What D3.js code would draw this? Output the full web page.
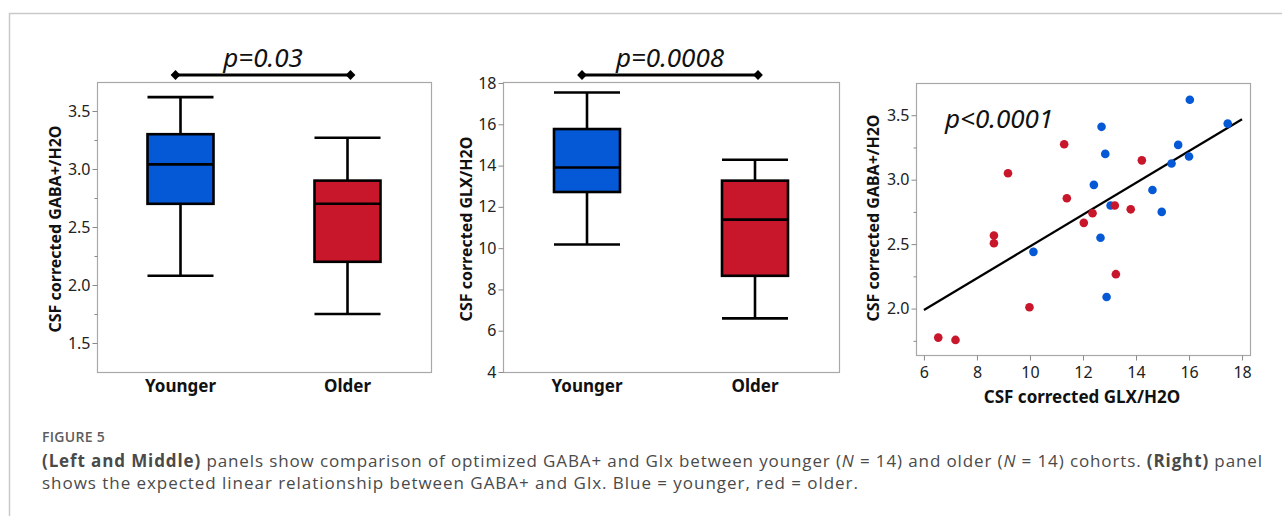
<!DOCTYPE html>
<html>
<head>
<meta charset="utf-8">
<script src="https://cdn.jsdelivr.net/npm/d3@7"></script>
<style>
  body { margin: 0; background: #fff; }
  svg { display: block; }
  .tick text { font-family: "Noto Sans", sans-serif; font-size: 16px; fill: #222; }
  .tick line { stroke: #8a8a8a; }
</style>
</head>
<body>
<div id="chart"></div>
<script>
// groups and box statistics
var groups = ["Younger", "Older"];
var gabaMin = [2.08, 1.75], gabaQ1 = [2.70, 2.20], gabaMed = [3.04, 2.70], gabaQ3 = [3.30, 2.90], gabaMax = [3.62, 3.27];
var glxMin = [10.18, 6.60], glxQ1 = [12.72, 8.66], glxMed = [13.91, 11.38], glxQ3 = [15.77, 13.27], glxMax = [17.54, 14.28];

// scatter: individual subjects
var youngGlx = [16.03, 17.46, 12.70, 15.59, 12.84, 16.00, 15.34, 12.41, 14.62, 13.04, 14.97, 12.66, 10.13, 12.89];
var youngGaba = [3.62, 3.435, 3.41, 3.27, 3.20, 3.18, 3.125, 2.96, 2.92, 2.80, 2.75, 2.55, 2.44, 2.09];
var olderGlx = [11.29, 9.17, 14.22, 11.39, 13.20, 13.80, 12.36, 12.03, 8.64, 8.64, 13.24, 9.98, 6.54, 7.19];
var olderGaba = [3.275, 3.05, 3.15, 2.856, 2.80, 2.77, 2.74, 2.665, 2.567, 2.507, 2.267, 2.01, 1.775, 1.757];

var gabaTicks = [1.5, 2.0, 2.5, 3.0, 3.5];
var gabaMinor = [1.75, 2.25, 2.75, 3.25];
var glxTicks = [4, 6, 8, 10, 12, 14, 16, 18];
var glxXTicks = [6, 8, 10, 12, 14, 16, 18];
var pLabels = ["p=0.03", "p=0.0008", "p<0.0001"];

var BLUE = "#0558d6", RED = "#c8162b";
var colors = [BLUE, RED];

var svg = d3.select("#chart").append("svg").attr("width", 1282).attr("height", 516);

// outer figure frame
svg.append("path").attr("d", "M9.5,516V13.5H1282").attr("fill", "none")
	.attr("stroke", "#c9c9c9").attr("stroke-width", 1.5);

function frame(p) {
	svg.append("rect").attr("x", p.x0 + 0.5).attr("y", p.y0 + 0.5)
		.attr("width", p.x1 - p.x0).attr("height", p.y1 - p.y0)
		.attr("fill", "none").attr("stroke", "#a8a8a8").attr("stroke-width", 1.2);
}

function yAxis(p, y, ticks, minor, fmt) {
	var g = svg.append("g").attr("transform", "translate(" + (p.x0 + 0.5) + ",0)");
	g.call(d3.axisLeft(y).tickValues(ticks).tickSize(5).tickPadding(2).tickFormat(fmt));
	g.select(".domain").remove();
	if (minor) {
		var m = svg.append("g").attr("transform", "translate(" + (p.x0 + 0.5) + ",0)");
		m.call(d3.axisLeft(y).tickValues(minor).tickSize(3).tickFormat(""));
		m.select(".domain").remove();
	}
}

function yTitle(x, yc, label) {
	svg.append("text").attr("transform", "translate(" + x + "," + yc + ") rotate(-90)")
		.attr("text-anchor", "middle").attr("dy", "0.35em")
		.style("font-family", "'Noto Sans', sans-serif").style("font-weight", "bold")
		.style("font-size", "16px").style("fill", "#111").text(label);
}

function boxPanel(p, y, mins, q1, med, q3, maxs, ticks, minor, fmt, title, titleX, pLabel) {
	var x = d3.scaleBand().domain(groups).range([p.x0, p.x1]);
	var bw = 66;
	frame(p);
	yAxis(p, y, ticks, minor, fmt);
	yTitle(titleX, (p.y0 + p.y1) / 2 + 2, title);

	var g = svg.append("g");
	groups.forEach(function(d, i) {
		var cx = x(d) + x.bandwidth() / 2;
		g.append("line").attr("x1", cx).attr("x2", cx).attr("y1", y(maxs[i])).attr("y2", y(q3[i])).attr("stroke", "#000").attr("stroke-width", 2.6);
		g.append("line").attr("x1", cx).attr("x2", cx).attr("y1", y(q1[i])).attr("y2", y(mins[i])).attr("stroke", "#000").attr("stroke-width", 2.6);
		[maxs[i], mins[i]].forEach(function(v) {
			g.append("line").attr("x1", cx - bw / 2).attr("x2", cx + bw / 2)
				.attr("y1", y(v)).attr("y2", y(v)).attr("stroke", "#000").attr("stroke-width", 2.6);
		});
		g.append("rect").attr("x", cx - bw / 2).attr("y", y(q3[i]))
			.attr("width", bw).attr("height", y(q1[i]) - y(q3[i]))
			.attr("fill", colors[i]).attr("stroke", "#000").attr("stroke-width", 2.6);
		g.append("line").attr("x1", cx - bw / 2).attr("x2", cx + bw / 2)
			.attr("y1", y(med[i])).attr("y2", y(med[i])).attr("stroke", "#000").attr("stroke-width", 2.6);

		svg.append("text").attr("x", cx).attr("y", p.y1 + 20).attr("text-anchor", "middle")
			.style("font-family", "'Noto Sans', sans-serif").style("font-weight", "bold")
			.style("font-size", "17px").style("fill", "#111").text(d);
	});

	// significance bracket
	var c0 = x(groups[0]) + x.bandwidth() / 2 - 5, c1 = x(groups[1]) + x.bandwidth() / 2 + 3;
	var by = p.y0 - 7;
	svg.append("line").attr("x1", c0).attr("x2", c1).attr("y1", by).attr("y2", by)
		.attr("stroke", "#000").attr("stroke-width", 3);
	[c0, c1].forEach(function(cx) {
		svg.append("path").attr("d", d3.symbol(d3.symbolSquare, 48)())
			.attr("transform", "translate(" + cx + "," + by + ") rotate(45)").attr("fill", "#000");
	});
	svg.append("text").attr("x", (c0 + c1) / 2).attr("y", by - 8).attr("text-anchor", "middle")
		.style("font-family", "'Noto Sans', sans-serif").style("font-style", "italic")
		.style("font-size", "26px").style("fill", "#111").text(pLabel);
}

var pLeft = { x0: 97, x1: 431, y0: 82, y1: 372 };
var pMid = { x0: 503, x1: 839, y0: 82, y1: 372 };
var pRight = { x0: 916, x1: 1250, y0: 83, y1: 355 };

var yGabaBox = d3.scaleLinear().domain([1.25, 3.75]).range([pLeft.y1, pLeft.y0]);
var yGlxBox = d3.scaleLinear().domain([4, 18]).range([pMid.y1, pMid.y0 + 1]);

boxPanel(pLeft, yGabaBox, gabaMin, gabaQ1, gabaMed, gabaQ3, gabaMax, gabaTicks, gabaMinor,
	d3.format(".1f"), "CSF corrected GABA+/H2O", 55, pLabels[0]);
boxPanel(pMid, yGlxBox, glxMin, glxQ1, glxMed, glxQ3, glxMax, glxTicks, null,
	d3.format("d"), "CSF corrected GLX/H2O", 466, pLabels[1]);

// scatter panel
var xs = d3.scaleLinear().domain([5.7, 18.3]).range([pRight.x0, pRight.x1]);
var ys = d3.scaleLinear().domain([1.64, 3.75]).range([pRight.y1, pRight.y0]);
frame(pRight);
yAxis(pRight, ys, [2.0, 2.5, 3.0, 3.5], gabaMinor, d3.format(".1f"));
var xg = svg.append("g").attr("transform", "translate(0," + (pRight.y1 + 0.5) + ")");
xg.call(d3.axisBottom(xs).tickValues(glxXTicks).tickSize(5).tickPadding(6).tickFormat(d3.format("d")));
xg.select(".domain").remove();
yTitle(873, 218, "CSF corrected GABA+/H2O");
svg.append("text").attr("x", (pRight.x0 + pRight.x1) / 2 - 1).attr("y", pRight.y1 + 48).attr("text-anchor", "middle")
	.style("font-family", "'Noto Sans', sans-serif").style("font-weight", "bold")
	.style("font-size", "17px").style("fill", "#111").text("CSF corrected GLX/H2O");

// least-squares fit through all subjects
var allX = youngGlx.concat(olderGlx), allY = youngGaba.concat(olderGaba);
var mx = d3.mean(allX), my = d3.mean(allY);
var sxy = d3.sum(allX, function(v, i) { return (v - mx) * (allY[i] - my); });
var sxx = d3.sum(allX, function(v) { return (v - mx) * (v - mx); });
var slope = sxy / sxx, icpt = my - slope * mx;
svg.append("line").attr("x1", xs(6)).attr("y1", ys(icpt + slope * 6))
	.attr("x2", xs(18)).attr("y2", ys(icpt + slope * 18))
	.attr("stroke", "#000").attr("stroke-width", 2.2);

var pts = youngGlx.map(function(v, i) { return { x: v, y: youngGaba[i], c: BLUE }; })
	.concat(olderGlx.map(function(v, i) { return { x: v, y: olderGaba[i], c: RED }; }));
svg.append("g").selectAll("circle").data(pts).enter().append("circle")
	.attr("cx", function(d) { return xs(d.x); }).attr("cy", function(d) { return ys(d.y); })
	.attr("r", 4.3).attr("fill", function(d) { return d.c; });

svg.append("text").attr("x", 945).attr("y", 128)
	.style("font-family", "'Noto Sans', sans-serif").style("font-style", "italic")
	.style("font-size", "26px").style("fill", "#111").text(pLabels[2]);

// caption
var cap = svg.append("g").style("font-family", "'Open Sans', sans-serif");
cap.append("text").attr("x", 42).attr("y", 442).style("font-size", "14px").style("letter-spacing", "0.3px")
	.style("font-weight", "600").style("fill", "#5c5c5c").text("FIGURE 5");
var l1 = cap.append("text").attr("x", 42).attr("y", 467).attr("textLength", 1220).attr("lengthAdjust", "spacing")
	.style("font-size", "17px").style("fill", "#4a4a4a");
l1.append("tspan").style("font-weight", "bold").text("(Left and Middle)");
l1.append("tspan").text(" panels show comparison of optimized GABA+ and Glx between younger (");
l1.append("tspan").style("font-style", "italic").text("N");
l1.append("tspan").text(" = 14) and older (");
l1.append("tspan").style("font-style", "italic").text("N");
l1.append("tspan").text(" = 14) cohorts. ");
l1.append("tspan").style("font-weight", "bold").text("(Right)");
l1.append("tspan").text(" panel");
cap.append("text").attr("x", 42).attr("y", 489).attr("textLength", 816).attr("lengthAdjust", "spacing")
	.style("font-size", "17px").style("fill", "#4a4a4a")
	.text("shows the expected linear relationship between GABA+ and Glx. Blue = younger, red = older.");
</script>
</body>
</html>
